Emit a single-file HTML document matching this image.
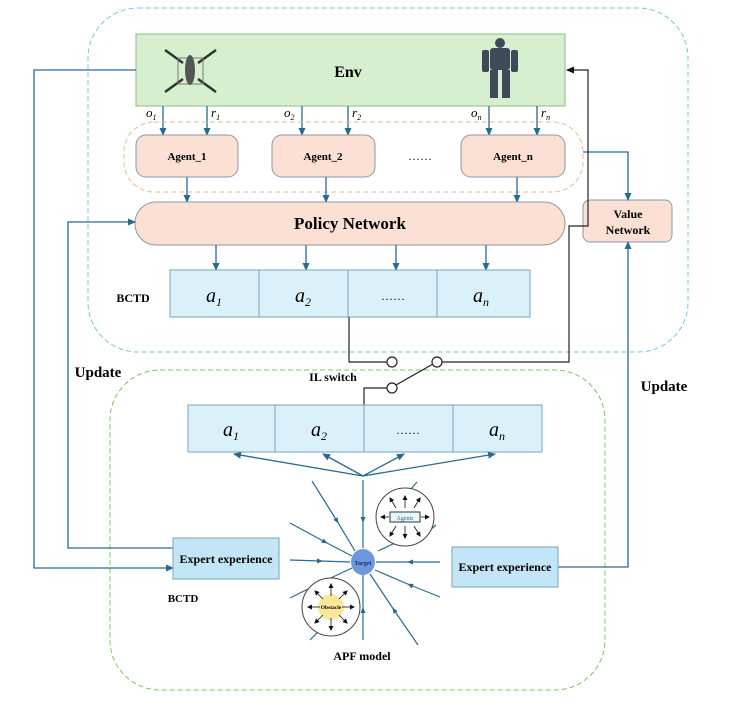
<!DOCTYPE html>
<html><head><meta charset="utf-8"><style>
body{margin:0;background:#fff}
svg text{font-family:"Liberation Serif",serif}
</style></head><body>
<svg width="732" height="702" viewBox="0 0 732 702" xmlns="http://www.w3.org/2000/svg">
<defs>
<marker id="a" markerWidth="8" markerHeight="8" refX="7" refY="4" orient="auto" markerUnits="userSpaceOnUse"><path d="M0,0.5 L8,4 L0,7.5z" fill="#2a6a8e"/></marker>
<marker id="m" markerWidth="6" markerHeight="6" refX="3" refY="3" orient="auto" markerUnits="userSpaceOnUse"><path d="M0,0.5 L6,3 L0,5.5z" fill="#2a6a8e"/></marker>
<marker id="k" markerWidth="8" markerHeight="8" refX="7" refY="4" orient="auto" markerUnits="userSpaceOnUse"><path d="M0,0.5 L8,4 L0,7.5z" fill="#111"/></marker>
<marker id="s" markerWidth="5" markerHeight="5" refX="4" refY="2.5" orient="auto" markerUnits="userSpaceOnUse"><path d="M0,0 L5,2.5 L0,5z" fill="#111"/></marker>
</defs>
<rect x="88" y="8" width="600" height="344" rx="50" fill="none" stroke="#7cc3e3" stroke-dasharray="5,3"/>
<rect x="110" y="370" width="495" height="320" rx="50" fill="none" stroke="#7dc462" stroke-dasharray="5,3"/>
<rect x="136" y="34" width="429" height="72" fill="#d6f0cf" stroke="#8fba86"/>
<text x="348" y="77" font-size="16" font-weight="bold" text-anchor="middle">Env</text>
<g stroke="#333" stroke-width="2.5" fill="none">
<line x1="165" y1="50" x2="183" y2="63"/><line x1="216" y1="50" x2="198" y2="63"/>
<line x1="165" y1="92" x2="183" y2="79"/><line x1="216" y1="92" x2="198" y2="79"/>
</g>
<g stroke="#777" stroke-width="1" fill="none"><rect x="178" y="58" width="25" height="26"/></g>
<ellipse cx="190" cy="70" rx="5" ry="15" fill="#555"/>
<g fill="#3e4a58">
<circle cx="500" cy="43" r="5"/><rect x="490" y="48" width="20" height="22" rx="3"/>
<rect x="482" y="50" width="7" height="22" rx="2"/><rect x="511" y="50" width="7" height="22" rx="2"/>
<rect x="490" y="70" width="8" height="28"/><rect x="502" y="70" width="8" height="28"/>
</g>
<g stroke="#2a6a8e" stroke-width="1.3" marker-end="url(#a)">
<line x1="163" y1="106" x2="163" y2="135"/><line x1="207" y1="106" x2="207" y2="135"/>
<line x1="302" y1="106" x2="302" y2="135"/><line x1="348" y1="106" x2="348" y2="135"/>
<line x1="489" y1="106" x2="489" y2="135"/><line x1="537" y1="106" x2="537" y2="135"/>
</g>
<g font-size="13" font-style="italic">
<text x="146" y="117">o<tspan font-size="8" dy="3">1</tspan></text>
<text x="211" y="117">r<tspan font-size="8" dy="3">1</tspan></text>
<text x="284" y="117">o<tspan font-size="8" dy="3">2</tspan></text>
<text x="352" y="117">r<tspan font-size="8" dy="3">2</tspan></text>
<text x="471" y="117">o<tspan font-size="8" dy="3">n</tspan></text>
<text x="541" y="117">r<tspan font-size="8" dy="3">n</tspan></text>
</g>
<rect x="124" y="122" width="459" height="70" rx="30" fill="none" stroke="#f3b98f" stroke-dasharray="5,3"/>
<g fill="#fbe0d3" stroke="#8a9aa6">
<rect x="136" y="135" width="102" height="42" rx="10"/>
<rect x="272" y="135" width="103" height="42" rx="10"/>
<rect x="461" y="135" width="104" height="42" rx="10"/>
</g>
<g font-size="11" font-weight="bold" text-anchor="middle">
<text x="187" y="160">Agent_1</text><text x="323" y="160">Agent_2</text><text x="513" y="160">Agent_n</text>
</g>
<text x="420" y="160" font-size="12" text-anchor="middle">……</text>
<g stroke="#2a6a8e" stroke-width="1.3" marker-end="url(#a)">
<line x1="187" y1="177" x2="187" y2="202"/><line x1="326" y1="177" x2="326" y2="202"/><line x1="517" y1="177" x2="517" y2="202"/>
</g>
<rect x="135" y="202" width="430" height="43" rx="21" fill="#fbe0d3" stroke="#8a9aa6"/>
<text x="350" y="229" font-size="17" font-weight="bold" text-anchor="middle">Policy Network</text>
<rect x="583" y="200" width="89" height="42" rx="7" fill="#fbe0d3" stroke="#8a9aa6"/>
<text x="628" y="218" font-size="12" font-weight="bold" text-anchor="middle">Value</text>
<text x="628" y="234" font-size="12" font-weight="bold" text-anchor="middle">Network</text>
<g stroke="#2a6a8e" stroke-width="1.3" marker-end="url(#a)">
<line x1="216" y1="245" x2="216" y2="270"/><line x1="306" y1="245" x2="306" y2="270"/>
<line x1="396" y1="245" x2="396" y2="270"/><line x1="486" y1="245" x2="486" y2="270"/>
<polyline fill="none" points="583,152 628,152 628,200"/>
<polyline fill="none" points="136,70 34,70 34,568 173,568"/>
<polyline fill="none" points="173,548 68,548 68,222 135,222"/>
<polyline fill="none" points="558,567 628,567 628,242"/>
</g>
<g fill="#dbf1fa" stroke="#7aa3ba">
<rect x="170" y="270" width="89" height="47"/><rect x="259" y="270" width="89" height="47"/>
<rect x="348" y="270" width="89" height="47"/><rect x="437" y="270" width="93" height="47"/>
</g>
<g font-size="20" font-style="italic" text-anchor="middle">
<text x="214" y="302">a<tspan font-size="12" dy="4">1</tspan></text>
<text x="303" y="302">a<tspan font-size="12" dy="4">2</tspan></text>
<text x="481" y="302">a<tspan font-size="12" dy="4">n</tspan></text>
</g>
<text x="393" y="300" font-size="12" text-anchor="middle">……</text>
<text x="133" y="302" font-size="12" font-weight="bold" text-anchor="middle">BCTD</text>
<g stroke="#222" stroke-width="1.2" fill="none">
<polyline points="349,317 349,362 387,362"/>
<polyline points="442,362 569,362 569,226 588,226 588,70 567,70" marker-end="url(#k)"/>
<polyline points="387,388 364,388 364,405"/>
<line x1="396" y1="385" x2="433" y2="364"/>
<circle cx="392" cy="362" r="5" fill="#fff"/><circle cx="437" cy="362" r="5" fill="#fff"/><circle cx="392" cy="388" r="5" fill="#fff"/>
</g>
<text x="333" y="381" font-size="12" font-weight="bold" text-anchor="middle">IL switch</text>
<text x="98" y="377" font-size="15" font-weight="bold" text-anchor="middle">Update</text>
<text x="664" y="391" font-size="15" font-weight="bold" text-anchor="middle">Update</text>
<g fill="#dbf1fa" stroke="#7aa3ba">
<rect x="188" y="405" width="87" height="47"/><rect x="275" y="405" width="89" height="47"/>
<rect x="364" y="405" width="89" height="47"/><rect x="453" y="405" width="89" height="47"/>
</g>
<g font-size="20" font-style="italic" text-anchor="middle">
<text x="231" y="436">a<tspan font-size="12" dy="4">1</tspan></text>
<text x="319" y="436">a<tspan font-size="12" dy="4">2</tspan></text>
<text x="497" y="436">a<tspan font-size="12" dy="4">n</tspan></text>
</g>
<text x="408" y="434" font-size="12" text-anchor="middle">……</text>
<g stroke="#2a6a8e" stroke-width="1.3" marker-end="url(#a)">
<line x1="363" y1="476" x2="234" y2="454"/><line x1="363" y1="476" x2="323" y2="454"/>
<line x1="363" y1="476" x2="404" y2="454"/><line x1="363" y1="476" x2="495" y2="454"/>
</g>
<g stroke="#2a6a8e" stroke-width="1.2" fill="none" marker-mid="url(#m)">
<polyline points="363,480 363,520 363,548"/>
<polyline points="312,481 337,521 355,551"/>
<polyline points="290,523 325,542 352,556"/>
<polyline points="290,560 320,561 350,562"/>
<polyline points="440,562 410,562 376,562"/>
<polyline points="440,597 410,585 375,570"/>
<polyline points="418,645 394,610 370,574"/>
<polyline points="363,640 363,610 363,575"/>
<polyline points="290,598 320,583 352,568"/>
</g>
<g stroke="#2a6a8e" stroke-width="1.2">
<line x1="310" y1="640" x2="318" y2="632"/>
<line x1="417" y1="482" x2="410" y2="490"/><line x1="436" y1="525" x2="430" y2="530"/>
<line x1="378" y1="551" x2="395" y2="543"/>
</g>
<circle cx="405" cy="517" r="29" fill="#fff" stroke="#444"/>
<rect x="390" y="512" width="30" height="10" fill="#e6f7fb" stroke="#333"/>
<text x="405" y="520" font-size="6" text-anchor="middle" fill="#2a6a8e">Agents</text>
<circle cx="331" cy="607" r="29" fill="#fff" stroke="#444"/>
<circle cx="331" cy="607" r="13" fill="#fbe79a"/>
<text x="331" y="609" font-size="5.5" text-anchor="middle" font-weight="bold">Obstacle</text>
<g stroke="#111" stroke-width="0.8" marker-end="url(#s)">
<line x1="405" y1="508" x2="405" y2="496"/><line x1="405" y1="526" x2="405" y2="538"/>
<line x1="396" y1="508" x2="390" y2="498"/><line x1="414" y1="508" x2="420" y2="498"/>
<line x1="396" y1="526" x2="390" y2="536"/><line x1="414" y1="526" x2="420" y2="536"/>
<line x1="389" y1="517" x2="381" y2="517"/><line x1="421" y1="517" x2="429" y2="517"/>
<line x1="331" y1="596" x2="331" y2="584"/><line x1="331" y1="618" x2="331" y2="630"/>
<line x1="320" y1="607" x2="308" y2="607"/><line x1="342" y1="607" x2="354" y2="607"/>
<line x1="323" y1="599" x2="315" y2="591"/><line x1="339" y1="599" x2="347" y2="591"/>
<line x1="323" y1="615" x2="315" y2="623"/><line x1="339" y1="615" x2="347" y2="623"/>
</g>
<ellipse cx="363" cy="562" rx="12" ry="13" fill="#6d98e0"/>
<text x="363" y="565" font-size="6" font-weight="bold" text-anchor="middle" fill="#1a2a5a">Target</text>
<text x="362" y="660" font-size="12" font-weight="bold" text-anchor="middle">APF model</text>
<rect x="173" y="538" width="106" height="41" fill="#c2e6f7" stroke="#7aa3ba"/>
<text x="226" y="563" font-size="12" font-weight="bold" text-anchor="middle">Expert experience</text>
<rect x="452" y="547" width="106" height="40" fill="#c2e6f7" stroke="#7aa3ba"/>
<text x="505" y="571" font-size="12" font-weight="bold" text-anchor="middle">Expert experience</text>
<text x="183" y="602" font-size="11" font-weight="bold" text-anchor="middle">BCTD</text>
</svg>
</body></html>
